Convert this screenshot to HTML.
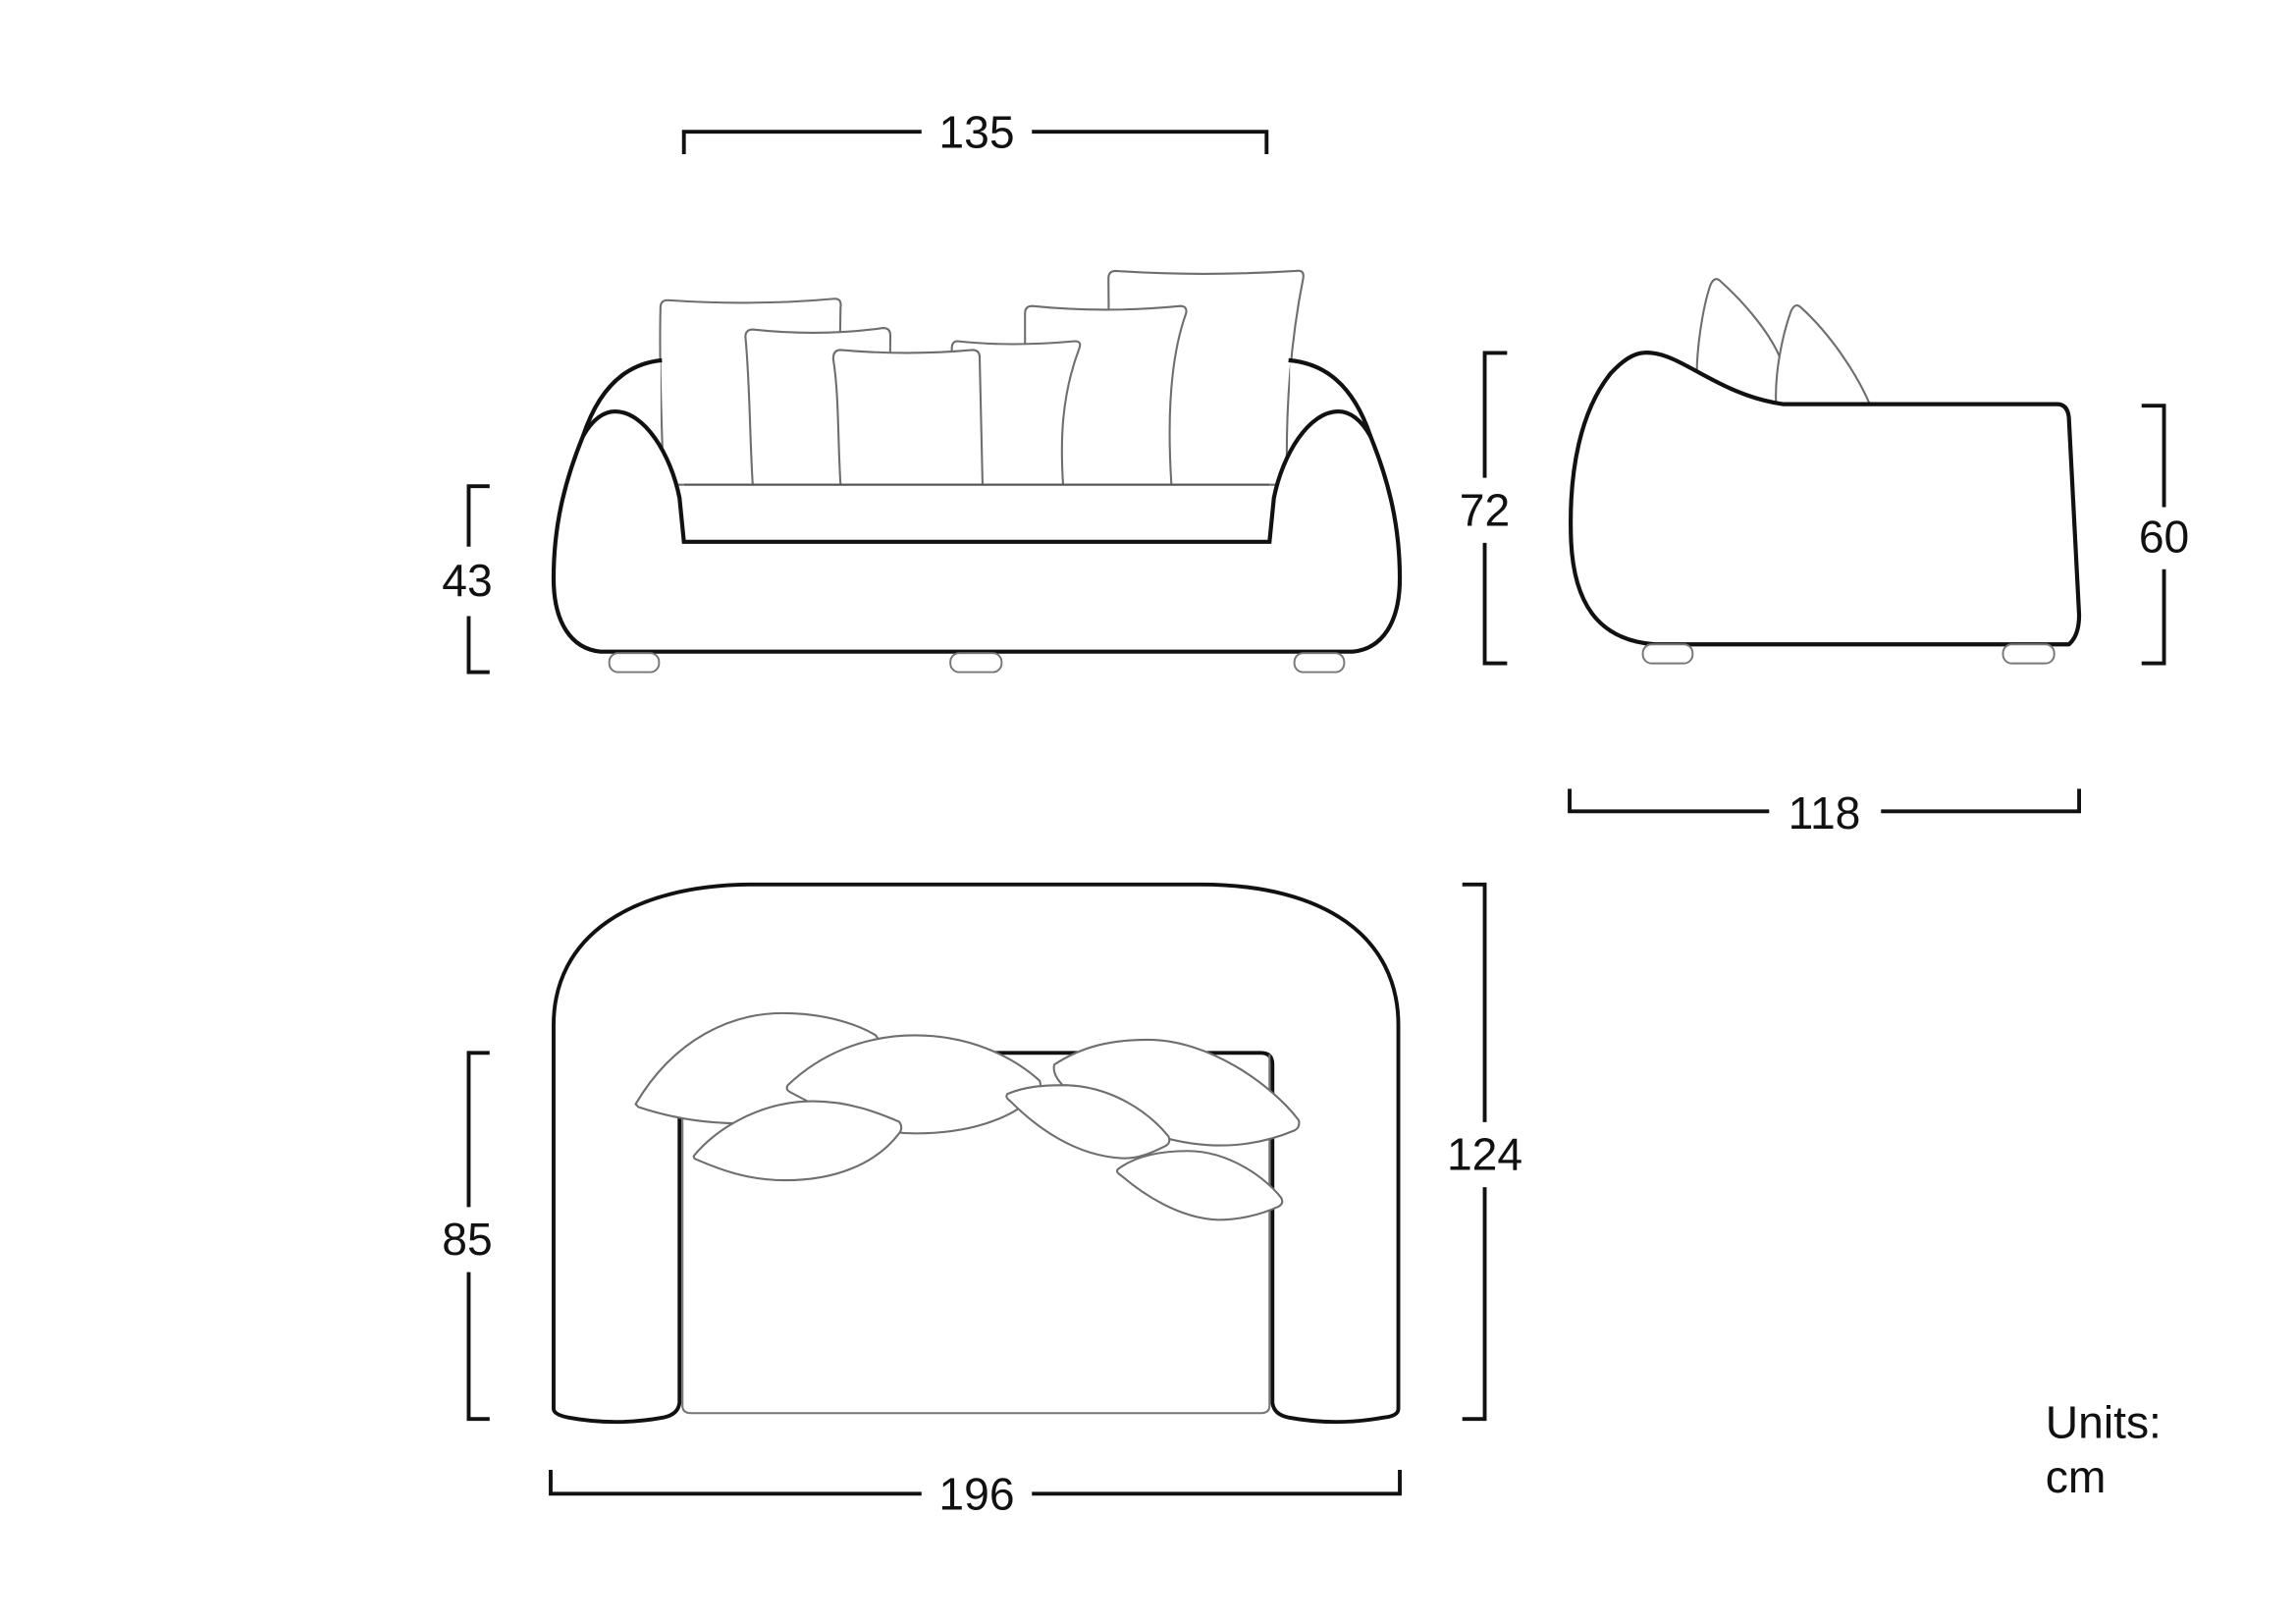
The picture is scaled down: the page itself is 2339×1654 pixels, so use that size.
<!DOCTYPE html>
<html><head><meta charset="utf-8"><style>
html,body{margin:0;padding:0;background:#fff;}
svg{display:block;}
text{font-family:"Liberation Sans",Arial,sans-serif;font-size:31px;fill:#111;}
</style></head><body>
<svg width="2339" height="1654" viewBox="0 0 1568 1109" xmlns="http://www.w3.org/2000/svg">
<rect width="1568" height="1109" fill="#fff"/>
<g fill="none" stroke="#111" stroke-width="2.6" stroke-linecap="square">
  <path d="M467,104 V90 H628 M706,90 H865 V104"/>
  <path d="M333,332 H320 V372 M320,422 V459 H333"/>
  <path d="M1028,241 H1014 V325 M1014,372 V453 H1028"/>
  <path d="M1464,277 H1478 V345 M1478,390 V453 H1464"/>
  <path d="M1072,540 V554 H1207 M1286,554 H1420 V540"/>
  <path d="M333,719 H320 V823 M320,870 V969 H333"/>
  <path d="M1000,604 H1014 V765 M1014,812 V969 H1000"/>
  <path d="M376,1005 V1020 H628 M706,1020 H956 V1005"/>
</g>
<g text-anchor="middle">
  <text x="667" y="101">135</text>
  <text x="319" y="407">43</text>
  <text x="1014" y="359">72</text>
  <text x="1478" y="377">60</text>
  <text x="1246" y="566">118</text>
  <text x="319" y="857">85</text>
  <text x="1014" y="799">124</text>
  <text x="667" y="1031">196</text>
</g>
<text x="1397" y="982">Units:</text>
<text x="1397" y="1019">cm</text>

<g fill="#fff" stroke="#6e6e6e" stroke-width="1.4">
  <path d="M453,331 C452,290 450,250 451,210 Q451,205 456,205 Q515,209 570,204 Q575,204 574,210 L572,331 Z"/>
  <path d="M879,331 C878,290 880,240 890,190 Q891,184 885,185 Q820,189 762,185 Q757,185 757,190 L758,331 Z"/>
  <path d="M514,331 C512,300 512,260 509,230 Q509,225 514,225 Q560,230 603,224 Q608,224 608,229 L607,331 Z"/>
  <path d="M800,331 C798,300 797,250 810,214 Q811,209 806,209 Q755,214 705,209 Q700,209 700,214 L700,331 Z"/>
  <path d="M726,331 C724,300 725,270 737,238 Q739,233 734,233 Q690,237 654,233 Q650,233 650,238 L650,331 Z"/>
  <path d="M574,331 C572,300 573,270 569,245 Q569,239 574,239 Q620,243 664,239 Q669,239 669,244 L671,331 Z"/>
</g>
<g fill="#fff" stroke="none">
  <path d="M410,445 C390,443 378,425 378,395 C378,360 385,330 398,298 C406,284 414,281 420,281 C440,281 458,310 464,340 L467,331 L867,331 L870,340 C876,310 894,281 914,281 C920,281 928,284 936,298 C949,330 956,360 956,395 C956,425 944,443 924,445 Z"/>
  <path d="M398,298 C410,262 430,248 451,246 L451,300 C445,292 432,281 420,281 C414,281 406,284 398,298 Z"/>
  <path d="M936,298 C924,262 904,248 881,246 L881,300 C889,292 902,281 914,281 C920,281 928,284 936,298 Z"/>
</g>
<g fill="none" stroke="#111" stroke-width="2.8">
  <path d="M452,246 C430,248 410,262 398,298 C385,330 378,360 378,395 C378,425 390,443 410,445 L924,445 C944,443 956,425 956,395 C956,360 949,330 936,298 C924,262 904,248 880,246"/>
  <path d="M398,298 C406,284 414,281 420,281 C440,281 458,310 464,340 L467,370 L867,370 L870,340 C876,310 894,281 914,281 C920,281 928,284 936,298" />
</g>
<path d="M467,331 H867" stroke="#555" stroke-width="1.4"/>
<g fill="#fff" stroke="#777" stroke-width="1.3">
  <rect x="416" y="446" width="34" height="13" rx="6"/>
  <rect x="649" y="446" width="35" height="13" rx="6"/>
  <rect x="884" y="446" width="34" height="13" rx="6"/>
</g>

<g fill="#fff" stroke="#6e6e6e" stroke-width="1.4">
  <path d="M1159,262 C1158,240 1163,210 1168,195 Q1171,188 1175,192 C1195,210 1210,230 1216,245 L1214,276 L1159,276 Z"/>
  <path d="M1213,276 C1212,255 1217,230 1223,213 Q1226,206 1230,210 C1250,228 1268,255 1277,276 Z"/>
</g>
<path d="M1130,440 C1090,437 1075,410 1073,370 C1071,320 1080,280 1100,255 C1112,242 1120,240 1128,241 C1150,243 1175,270 1218,276 L1405,276 Q1412,276 1413,285 L1420,420 Q1420,434 1413,440 Z" fill="#fff" stroke="#111" stroke-width="2.8" stroke-linejoin="round"/>
<g fill="#fff" stroke="#777" stroke-width="1.3">
  <rect x="1122" y="440" width="34" height="13" rx="6"/>
  <rect x="1368" y="440" width="35" height="13" rx="6"/>
</g>

<path d="M378,962 L378,700 C378,640 430,604 515,604 L820,604 C905,604 955,640 955,700 L955,962 Q955,967 945,968 Q912,974 880,968 Q870,966 869,958 L869,727 Q869,719 861,719 L473,719 Q465,719 464,727 L464,958 Q463,966 453,968 Q420,974 388,968 Q378,966 378,962 Z" fill="#fff" stroke="#111" stroke-width="2.6"/>
<path d="M466,720 V960 Q466,965 472,965 L861,965 Q867,965 867,960 V720" fill="none" stroke="#777" stroke-width="1.4"/>
<g fill="#fff" stroke="#6e6e6e" stroke-width="1.4" stroke-linejoin="round">
  <path d="M434,754 C460,710 500,690 540,692 C570,693 590,702 598,707 Q602,712 600,716 C580,745 540,768 497,767 C470,766 448,760 436,756 Z"/>
  <path d="M538,741 C560,720 590,707 625,707 C660,707 690,720 710,738 Q712,744 707,748 C690,765 660,774 625,774 C595,774 570,762 540,746 Q536,744 538,741 Z"/>
  <path d="M720,727 C740,714 760,710 784,710 C825,710 868,740 887,765 Q888,770 884,772 C865,780 845,783 826,782 C790,780 760,765 730,745 Q718,735 720,727 Z"/>
  <path d="M474,789 C490,770 520,752 555,752 C580,752 600,760 614,766 Q617,770 614,774 C598,795 570,806 536,806 C510,806 490,798 476,792 Q473,791 474,789 Z"/>
  <path d="M688,747 C700,742 712,741 728,741 C760,742 785,760 798,776 Q800,781 795,783 C785,788 777,791 768,791 C735,790 708,770 690,752 Q686,749 688,747 Z"/>
  <path d="M764,798 C775,790 790,786 811,786 C840,786 865,805 875,818 Q877,822 873,824 C860,830 845,833 832,833 C805,832 780,815 766,803 Q761,800 764,798 Z"/>
</g>
</svg>
</body></html>
